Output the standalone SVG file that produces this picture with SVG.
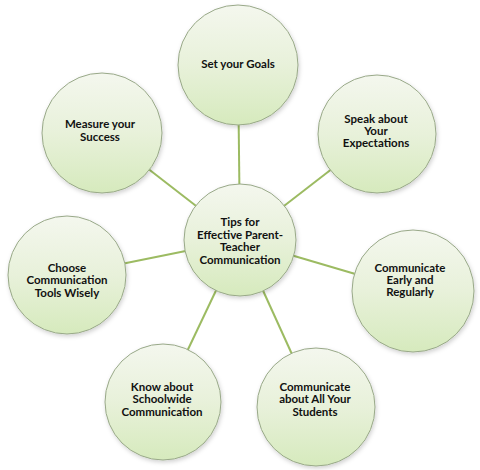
<svg xmlns="http://www.w3.org/2000/svg" width="480" height="470" viewBox="0 0 480 470">
<defs>
<linearGradient id="g" x1="0" y1="0" x2="0" y2="1">
<stop offset="0" stop-color="#f4f7ee"/>
<stop offset="0.5" stop-color="#e8f1da"/>
<stop offset="1" stop-color="#d6eabd"/>
</linearGradient>
<filter id="sh" x="-20%" y="-20%" width="140%" height="140%">
<feDropShadow dx="1" dy="2" stdDeviation="2" flood-color="#000" flood-opacity="0.18"/>
</filter>
</defs>
<style>
.n{fill:url(#g);stroke:#98a888;stroke-width:1;filter:url(#sh)}
.t{font-family:Lato,"Liberation Sans",sans-serif;font-weight:bold;font-size:11.5px;fill:#111;text-anchor:middle}
.c{stroke:#9cbb62;stroke-width:2;fill:none}
</style>
<rect width="480" height="470" fill="#fff"/>
<g id="connectors">
<line class="c" x1="240" y1="240" x2="238" y2="65"/>
<line class="c" x1="240" y1="240" x2="377" y2="134"/>
<line class="c" x1="240" y1="240" x2="413" y2="291"/>
<line class="c" x1="240" y1="240" x2="316" y2="407"/>
<line class="c" x1="240" y1="240" x2="163" y2="402"/>
<line class="c" x1="240" y1="240" x2="67" y2="275"/>
<line class="c" x1="240" y1="240" x2="102" y2="133"/>
</g>
<g id="goals"><circle class="n" cx="238" cy="65" r="60"/><text class="t" x="238" y="68">Set your Goals</text></g>
<g id="expectations"><circle class="n" cx="377" cy="134" r="59"/><text class="t" x="376" y="123">Speak about</text><text class="t" x="376" y="135">Your</text><text class="t" x="376" y="147">Expectations</text></g>
<g id="early"><circle class="n" cx="413" cy="291" r="61"/><text class="t" x="410" y="272">Communicate</text><text class="t" x="410" y="284">Early and</text><text class="t" x="410" y="296">Regularly</text></g>
<g id="students"><circle class="n" cx="316" cy="407" r="59"/><text class="t" x="315" y="391">Communicate</text><text class="t" x="315" y="403">about All Your</text><text class="t" x="315" y="416">Students</text></g>
<g id="schoolwide"><circle class="n" cx="163" cy="402" r="58"/><text class="t" x="162" y="391">Know about</text><text class="t" x="162" y="403">Schoolwide</text><text class="t" x="162" y="416">Communication</text></g>
<g id="tools"><circle class="n" cx="67" cy="275" r="59"/><text class="t" x="67" y="272">Choose</text><text class="t" x="67" y="284">Communication</text><text class="t" x="67" y="297">Tools Wisely</text></g>
<g id="success"><circle class="n" cx="102" cy="133" r="60"/><text class="t" x="100" y="128">Measure your</text><text class="t" x="100" y="141">Success</text></g>
<g id="center"><circle class="n" cx="240" cy="240" r="56"/><text class="t" x="240" y="226">Tips for</text><text class="t" x="240" y="238.5">Effective Parent-</text><text class="t" x="240" y="251">Teacher</text><text class="t" x="240" y="263.5">Communication</text></g>
</svg>
